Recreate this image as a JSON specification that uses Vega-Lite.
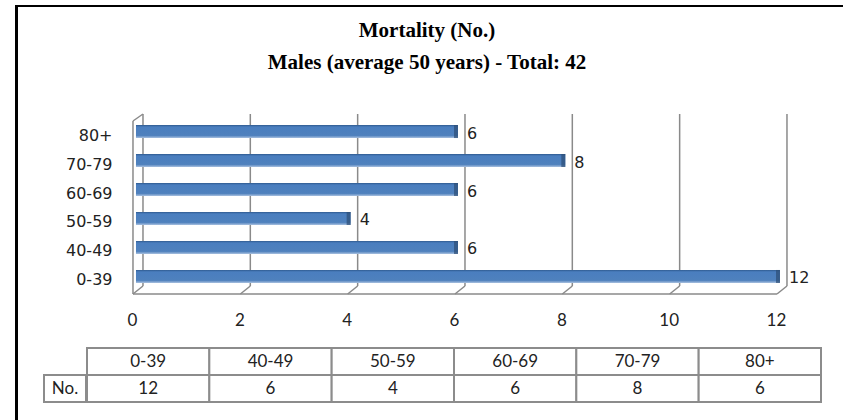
{
  "$schema": "https://vega.github.io/schema/vega-lite/v6.json",
  "autosize": {"type": "pad"},
  "padding": {"left": 15, "top": 5, "right": 0, "bottom": 0},
  "background": "white",
  "config": {"view": {"stroke": null}},
  "datasets": {
    "mortality": [
      {"age": "0-39", "n": 12},
      {"age": "40-49", "n": 6},
      {"age": "50-59", "n": 4},
      {"age": "60-69", "n": 6},
      {"age": "70-79", "n": 8},
      {"age": "80+", "n": 6}
    ],
    "grid": [{"v": 0}, {"v": 2}, {"v": 4}, {"v": 6}, {"v": 8}, {"v": 10}, {"v": 12}],
    "one": [{"label": "No."}],
    "none": []
  },
  "spacing": 0,
  "vconcat": [
    {
      "width": 828, "height": 2,
      "view": {"fill": "black", "stroke": null},
      "data": {"name": "none"},
      "mark": {"type": "text"},
      "encoding": {"text": {"value": ""}}
    },
    {
      "spacing": 25,
      "hconcat": [
        {
          "width": 3, "height": 413,
          "view": {"fill": "black", "stroke": null},
          "data": {"name": "none"},
          "mark": {"type": "text"},
          "encoding": {"text": {"value": ""}}
        },
        {
          "spacing": 40,
          "vconcat": [
            {
              "width": 766, "height": 1,
              "data": {"name": "none"},
              "mark": {"type": "text"},
              "encoding": {"text": {"value": ""}},
              "title": {
                "text": ["Mortality (No.)", "Males (average 50 years) - Total: 42"],
                "orient": "bottom", "anchor": "middle", "frame": "group", "offset": 12,
                "font": "Liberation Serif", "fontSize": 21, "fontWeight": "bold",
                "lineHeight": 32, "color": "black"
              }
            },
            {
              "spacing": 19,
              "vconcat": [
                {
                  "width": 778, "height": 180,
                  "resolve": {"scale": {"y": "independent"}},
                  "layer": [
                    {
                      "data": {"name": "grid"},
                      "layer": [
                        {
                          "mark": {"type": "rule", "color": "#8a8a8a", "strokeWidth": 1.5, "xOffset": 7, "y2Offset": -8},
                          "encoding": {
                            "x": {"field": "v", "type": "quantitative", "scale": {"domain": [-1.714, 12.783], "nice": false, "zero": false},
                              "axis": {"title": null, "values": [0, 2, 4, 6, 8, 10, 12], "grid": false, "domain": false, "ticks": false, "tickSize": 0, "labelFont": "Lato", "labelFontSize": 17, "labelColor": "#222222", "labelPadding": 18, "labelOffset": -4}},
                            "y": {"datum": 1, "type": "quantitative", "scale": {"domain": [0, 1]}, "axis": null},
                            "y2": {"datum": 0}
                          }
                        },
                        {
                          "mark": {"type": "rule", "color": "#8a8a8a", "strokeWidth": 1.5, "xOffset": 7, "yOffset": -8, "x2Offset": -3},
                          "encoding": {
                            "x": {"field": "v", "type": "quantitative", "scale": {"domain": [-1.714, 12.783], "nice": false, "zero": false},
                              "axis": {"title": null, "values": [0, 2, 4, 6, 8, 10, 12], "grid": false, "domain": false, "ticks": false, "tickSize": 0, "labelFont": "Lato", "labelFontSize": 17, "labelColor": "#222222", "labelPadding": 18, "labelOffset": -4}},
                            "x2": {"field": "v"},
                            "y": {"datum": 0, "type": "quantitative", "scale": {"domain": [0, 1]}, "axis": null},
                            "y2": {"datum": 0}
                          }
                        },
                        {
                          "data": {"name": "one"},
                          "mark": {"type": "rule", "color": "#8a8a8a", "strokeWidth": 1.5, "xOffset": -3, "x2Offset": -3},
                          "encoding": {
                            "x": {"datum": 0, "type": "quantitative", "scale": {"domain": [-1.714, 12.783], "nice": false, "zero": false},
                              "axis": {"title": null, "values": [0, 2, 4, 6, 8, 10, 12], "grid": false, "domain": false, "ticks": false, "tickSize": 0, "labelFont": "Lato", "labelFontSize": 17, "labelColor": "#222222", "labelPadding": 18, "labelOffset": -4}},
                            "x2": {"datum": 12},
                            "y": {"datum": 0, "type": "quantitative", "scale": {"domain": [0, 1]}, "axis": null}
                          }
                        },
                        {
                          "data": {"name": "one"},
                          "mark": {"type": "rule", "color": "#8a8a8a", "strokeWidth": 1.5, "xOffset": -3, "yOffset": 7},
                          "encoding": {
                            "x": {"datum": 0, "type": "quantitative", "scale": {"domain": [-1.714, 12.783], "nice": false, "zero": false},
                              "axis": {"title": null, "values": [0, 2, 4, 6, 8, 10, 12], "grid": false, "domain": false, "ticks": false, "tickSize": 0, "labelFont": "Lato", "labelFontSize": 17, "labelColor": "#222222", "labelPadding": 18, "labelOffset": -4}},
                            "y": {"datum": 1, "type": "quantitative", "scale": {"domain": [0, 1]}, "axis": null},
                            "y2": {"datum": 0}
                          }
                        },
                        {
                          "data": {"name": "one"},
                          "mark": {"type": "rule", "color": "#8a8a8a", "strokeWidth": 1.5, "xOffset": 7, "x2Offset": -3, "y2Offset": 7},
                          "encoding": {
                            "x": {"datum": 0, "type": "quantitative", "scale": {"domain": [-1.714, 12.783], "nice": false, "zero": false},
                              "axis": {"title": null, "values": [0, 2, 4, 6, 8, 10, 12], "grid": false, "domain": false, "ticks": false, "tickSize": 0, "labelFont": "Lato", "labelFontSize": 17, "labelColor": "#222222", "labelPadding": 18, "labelOffset": -4}},
                            "x2": {"datum": 0},
                            "y": {"datum": 1, "type": "quantitative", "scale": {"domain": [0, 1]}, "axis": null},
                            "y2": {"datum": 1}
                          }
                        }
                      ]
                    },
                    {
                      "data": {"name": "mortality"},
                      "encoding": {
                        "y": {
                          "field": "age", "type": "nominal",
                          "sort": ["80+", "70-79", "60-69", "50-59", "40-49", "0-39"],
                          "scale": {"paddingInner": 0.55, "paddingOuter": 0.38},
                          "axis": {
                            "title": null, "domain": false, "ticks": false, "tickSize": 0,
                            "labelFont": "DejaVu Sans", "labelFontSize": 16, "labelColor": "#222222",
                            "labelPadding": 6, "offset": -74, "labelOffset": 4
                          }
                        },
                        "x": {
                          "field": "n", "type": "quantitative",
                          "scale": {"domain": [-1.714, 12.783], "nice": false, "zero": false},
                          "axis": {"title": null, "values": [0, 2, 4, 6, 8, 10, 12], "grid": false, "domain": false, "ticks": false, "tickSize": 0, "labelFont": "Lato", "labelFontSize": 17, "labelColor": "#222222", "labelPadding": 18, "labelOffset": -4}
                        }
                      },
                      "layer": [
                        {
                          "mark": {
                            "type": "bar",
                            "color": {
                              "gradient": "linear", "x1": 0, "y1": 0, "x2": 0, "y2": 1,
                              "stops": [
                                {"offset": 0, "color": "#2f5a8f"},
                                {"offset": 0.15, "color": "#4a7ebf"},
                                {"offset": 0.8, "color": "#4f81bd"},
                                {"offset": 1, "color": "#a9c1e0"}
                              ]
                            }
                          }
                        },
                        {
                          "mark": {"type": "tick", "color": "#2c4d75", "thickness": 4, "size": 13, "xOffset": -2, "orient": "vertical"}
                        },
                        {
                          "mark": {"type": "text", "align": "left", "dx": 9, "dy": 2, "font": "DejaVu Sans", "fontSize": 16, "color": "#222222"},
                          "encoding": {"text": {"field": "n", "type": "quantitative"}}
                        }
                      ]
                    }
                  ]
                },
                {
                  "spacing": -2,
                  "hconcat": [
                    {
                      "width": 42, "height": 54,
                      "data": {"name": "one"},
                      "encoding": {
                        "y": {"datum": "v", "type": "nominal", "scale": {"domain": ["h", "v"], "paddingInner": 0, "paddingOuter": 0}, "axis": null}
                      },
                      "layer": [
                        {"mark": {"type": "rect", "fill": "white", "stroke": "#8c8c8c", "strokeWidth": 2}},
                        {
                          "mark": {"type": "text", "font": "Lato", "fontSize": 17, "color": "#222222"},
                          "encoding": {"text": {"field": "label"}}
                        }
                      ]
                    },
                    {
                      "width": 734, "height": 54,
                      "data": {"name": "mortality"},
                      "encoding": {
                        "x": {
                          "field": "age", "type": "nominal",
                          "sort": ["0-39", "40-49", "50-59", "60-69", "70-79", "80+"],
                          "scale": {"paddingInner": 0, "paddingOuter": 0}, "axis": null
                        }
                      },
                      "layer": [
                        {
                          "mark": {"type": "rect", "fill": "white", "stroke": "#8c8c8c", "strokeWidth": 2},
                          "encoding": {"y": {"datum": "h", "type": "nominal", "scale": {"domain": ["h", "v"], "paddingInner": 0, "paddingOuter": 0}, "axis": null}}
                        },
                        {
                          "mark": {"type": "rect", "fill": "white", "stroke": "#8c8c8c", "strokeWidth": 2},
                          "encoding": {"y": {"datum": "v", "type": "nominal", "scale": {"domain": ["h", "v"], "paddingInner": 0, "paddingOuter": 0}, "axis": null}}
                        },
                        {
                          "mark": {"type": "text", "font": "Lato", "fontSize": 17, "color": "#222222"},
                          "encoding": {
                            "y": {"datum": "h", "type": "nominal", "scale": {"domain": ["h", "v"], "paddingInner": 0, "paddingOuter": 0}, "axis": null},
                            "text": {"field": "age"}
                          }
                        },
                        {
                          "mark": {"type": "text", "font": "Lato", "fontSize": 17, "color": "#222222"},
                          "encoding": {
                            "y": {"datum": "v", "type": "nominal", "scale": {"domain": ["h", "v"], "paddingInner": 0, "paddingOuter": 0}, "axis": null},
                            "text": {"field": "n", "type": "quantitative"}
                          }
                        }
                      ]
                    }
                  ]
                }
              ]
            }
          ]
        }
      ]
    }
  ]
}
